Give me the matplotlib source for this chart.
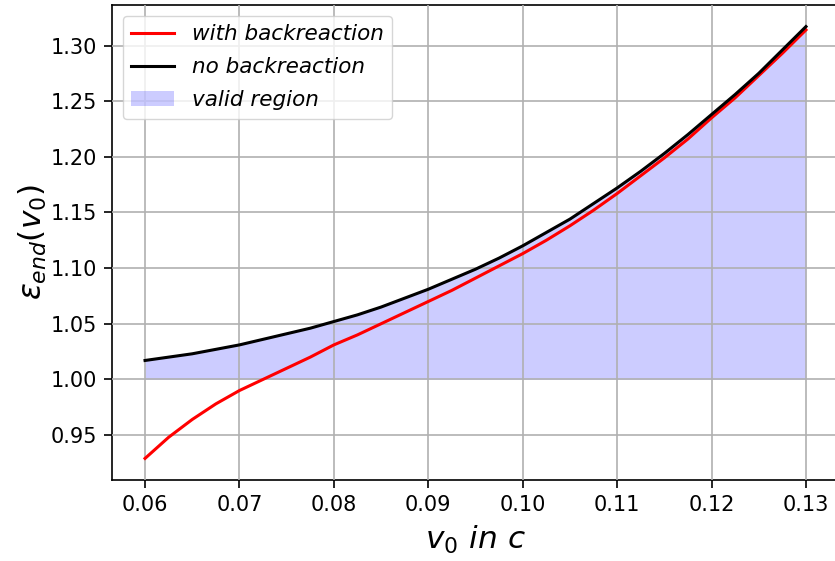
import numpy as np
import matplotlib.pyplot as plt

# ============================================================
# Data
# ============================================================

v0 = [0.0600, 0.0625, 0.0650, 0.0675, 0.0700, 0.0725, 0.0750, 0.0775,
      0.0800, 0.0825, 0.0850, 0.0875, 0.0900, 0.0925, 0.0950, 0.0975,
      0.1000, 0.1025, 0.1050, 0.1075, 0.1100, 0.1125, 0.1150, 0.1175,
      0.1200, 0.1225, 0.1250, 0.1275, 0.1300]

eps_no = [1.017, 1.020, 1.023, 1.027, 1.031, 1.036, 1.041, 1.046,
          1.052, 1.058, 1.065, 1.073, 1.081, 1.090, 1.099, 1.109,
          1.120, 1.132, 1.144, 1.158, 1.172, 1.187, 1.203, 1.220,
          1.238, 1.256, 1.275, 1.296, 1.317]

eps_with = [0.929, 0.948, 0.964, 0.978, 0.990, 1.000, 1.010, 1.020,
            1.031, 1.040, 1.050, 1.060, 1.070, 1.080, 1.091, 1.102,
            1.113, 1.125, 1.138, 1.152, 1.167, 1.183, 1.199, 1.216,
            1.235, 1.253, 1.273, 1.293, 1.314]

eps_floor = 1.0

# ============================================================
# Plot
# ============================================================

fig = plt.figure(figsize=(8.35, 5.61), dpi=100)
ax = fig.add_axes([112 / 835, 1 - 480 / 561, (839 - 112) / 835, (480 - 5) / 561])

ax.plot(v0, eps_with, color='red', linewidth=2.2, label='with backreaction', zorder=3)
ax.plot(v0, eps_no, color='black', linewidth=2.2, label='no backreaction', zorder=4)
ax.fill_between(v0, eps_floor, eps_no, color='blue', alpha=0.2,
                linewidth=0, label='valid region', zorder=2)

# grid on top of the fill, below the curves
ax.set_axisbelow(False)
ax.grid(True, color='#b0b0b0', linewidth=1.2)

ax.set_xlim(0.0565, 0.1335)
ax.set_xticks([0.06, 0.07, 0.08, 0.09, 0.10, 0.11, 0.12, 0.13])
ax.set_xticklabels(['0.06', '0.07', '0.08', '0.09', '0.10', '0.11', '0.12', '0.13'])
ax.set_yticks([0.95, 1.00, 1.05, 1.10, 1.15, 1.20, 1.25, 1.30])
ax.set_yticklabels(['0.95', '1.00', '1.05', '1.10', '1.15', '1.20', '1.25', '1.30'])
ax.tick_params(labelsize=15, length=6, width=1.2, pad=5)

for s in ax.spines.values():
    s.set_linewidth(1.2)
# the reference is cropped just before the right edge of the axes
ax.spines['right'].set_visible(False)

ax.set_xlabel(r'$v_0\ in\ c$', fontsize=22.5, labelpad=6)
ax.set_ylabel(r'$\varepsilon_{end}(v_0)$', fontsize=22.5, labelpad=1)

leg = ax.legend(loc='upper left', prop={'style': 'italic', 'size': 15.5},
                handlelength=2.0, borderaxespad=0.5, labelspacing=0.6)

fig.savefig('out.png', dpi=100)
